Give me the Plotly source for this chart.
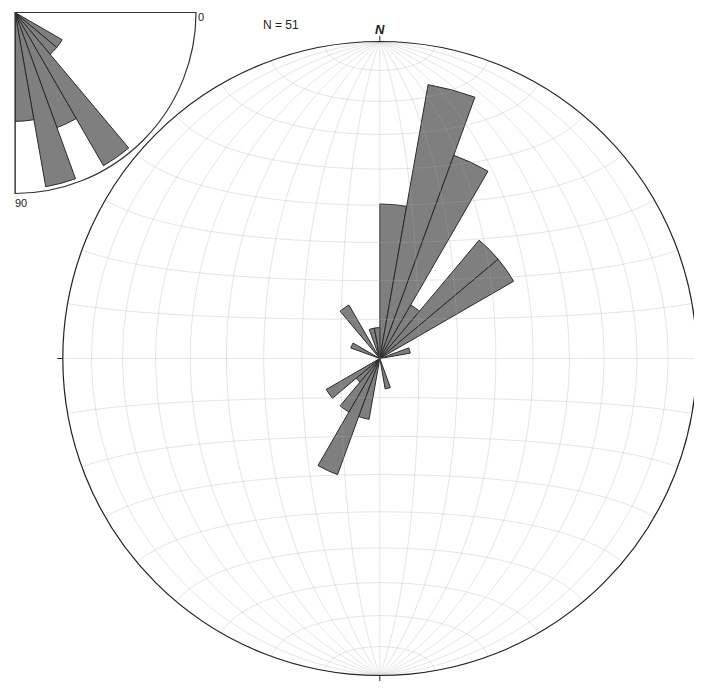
import numpy as np
import plotly.graph_objects as go

# ---------------- data ----------------
# Main rose: azimuth bins (start, degrees) and counts
az_bin_start = list(range(0, 360, 10))
az_counts = [5, 9, 7, 2, 5, 5, 0, 1, 0,
             0, 0, 0, 0, 0, 0, 0, 1, 0,
             0, 2, 4, 2, 1, 2, 0, 0, 0,
             0, 0, 1, 0, 0, 2, 0, 1, 1]
# Inset rose: dip bins (start, degrees) and counts
dip_bin_start = list(range(0, 90, 10))
dip_counts = [0, 0, 0, 4, 4, 13, 9, 13, 8]
n_total = 51
main_tick_vals = [0, 90, 180, 270]
inset_tick_vals = [10, 20, 30, 40, 50, 60, 70, 80]

RMAX_MAIN = 10.26
RMAX_INSET = 13.3

# page body has an 8px margin; work in screen coords and subtract it
OFF = 8
W, H = 702 - OFF, 688 - OFF
cx, cy, R = 379.8 - OFF, 358.5 - OFF, 317.0
ix, iy, IR = 15.0 - OFF, 12.5 - OFF, 181.0

GRID = "rgba(170,170,170,0.30)"
FILL = "#7f7f7f"
EDGE = "#2a2a2a"

fig = go.Figure()

# ---------------- Schmidt (equal-area) net ----------------
def proj(lam, phi):
    lam = np.radians(lam); phi = np.radians(phi)
    x = np.cos(phi) * np.sin(lam)
    y = np.sin(phi)
    z = np.cos(phi) * np.cos(lam)
    r = np.sqrt(np.clip(1 - z, 0, None))
    th = np.degrees(np.arctan2(x, y)) % 360
    return r, th

rs, ths = [], []
t = np.linspace(-90, 90, 181)
for lam in range(-80, 90, 10):
    r, th = proj(np.full_like(t, lam), t)
    rs += list(r * RMAX_MAIN) + [None]; ths += list(th) + [None]
for phi in range(-80, 90, 10):
    r, th = proj(t, np.full_like(t, phi))
    rs += list(r * RMAX_MAIN) + [None]; ths += list(th) + [None]

# rose petals (main)
fig.add_trace(go.Barpolar(
    r=az_counts, theta=[a + 5 for a in az_bin_start], width=[10] * len(az_counts),
    marker=dict(color=FILL, line=dict(color=EDGE, width=1)),
    subplot="polar", hoverinfo="skip", showlegend=False))

fig.add_trace(go.Scatterpolar(
    r=rs, theta=ths, mode="lines", line=dict(color=GRID, width=1),
    subplot="polar", hoverinfo="skip", showlegend=False, connectgaps=False))

# inset petals
fig.add_trace(go.Barpolar(
    r=dip_counts, theta=[a + 5 for a in dip_bin_start], width=[10] * len(dip_counts),
    marker=dict(color=FILL, line=dict(color=EDGE, width=1)),
    subplot="polar2", hoverinfo="skip", showlegend=False))
fig.add_trace(go.Scatterpolar(
    r=[0, RMAX_INSET, None, 0, RMAX_INSET], theta=[0, 0, None, 90, 90],
    mode="lines", line=dict(color="#333333", width=1.2),
    subplot="polar2", hoverinfo="skip", showlegend=False))

fig.update_layout(
    width=W, height=H, margin=dict(l=0, r=0, t=0, b=0),
    paper_bgcolor="white", plot_bgcolor="white", template="none",
    showlegend=False,
    polar=dict(
        domain=dict(x=[(cx - R) / W, (cx + R) / W], y=[1 - (cy + R) / H, 1 - (cy - R) / H]),
        bgcolor="white",
        radialaxis=dict(visible=False, range=[0, RMAX_MAIN]),
        angularaxis=dict(rotation=90, direction="clockwise", showgrid=False,
                         showline=True, linecolor="#222222", linewidth=1.2,
                         ticks="outside", ticklen=5, tickcolor="#222222",
                         tickmode="array", tickvals=main_tick_vals,
                         showticklabels=False),
    ),
    polar2=dict(
        domain=dict(x=[ix / W, (ix + IR) / W], y=[1 - (iy + IR) / H, 1 - iy / H]),
        sector=[270, 360],
        bgcolor="white",
        radialaxis=dict(visible=False, range=[0, RMAX_INSET]),
        angularaxis=dict(rotation=0, direction="clockwise", showgrid=False,
                         showline=True, linecolor="#333333", linewidth=1.2,
                         ticks="inside", ticklen=3, tickcolor="#333333",
                         tickmode="array", tickvals=inset_tick_vals,
                         showticklabels=False),
    ),
    annotations=[
        dict(text=f"N = {n_total}", x=(281 - OFF) / W, y=1 - (25 - OFF) / H,
             xref="paper", yref="paper",
             showarrow=False, xanchor="center", yanchor="middle",
             font=dict(family="Liberation Sans", size=12, color="#222222")),
        dict(text="<b><i>N</i></b>", x=cx / W, y=1 - (29 - OFF) / H,
             xref="paper", yref="paper",
             showarrow=False, xanchor="center", yanchor="middle",
             font=dict(family="Liberation Sans", size=13, color="#222222")),
        dict(text="0", x=(201 - OFF) / W, y=1 - (17 - OFF) / H,
             xref="paper", yref="paper",
             showarrow=False, xanchor="center", yanchor="middle",
             font=dict(family="Liberation Sans", size=11, color="#222222")),
        dict(text="90", x=(21 - OFF) / W, y=1 - (203 - OFF) / H,
             xref="paper", yref="paper",
             showarrow=False, xanchor="center", yanchor="middle",
             font=dict(family="Liberation Sans", size=11, color="#222222")),
    ],
)

fig.write_html("out.html")
